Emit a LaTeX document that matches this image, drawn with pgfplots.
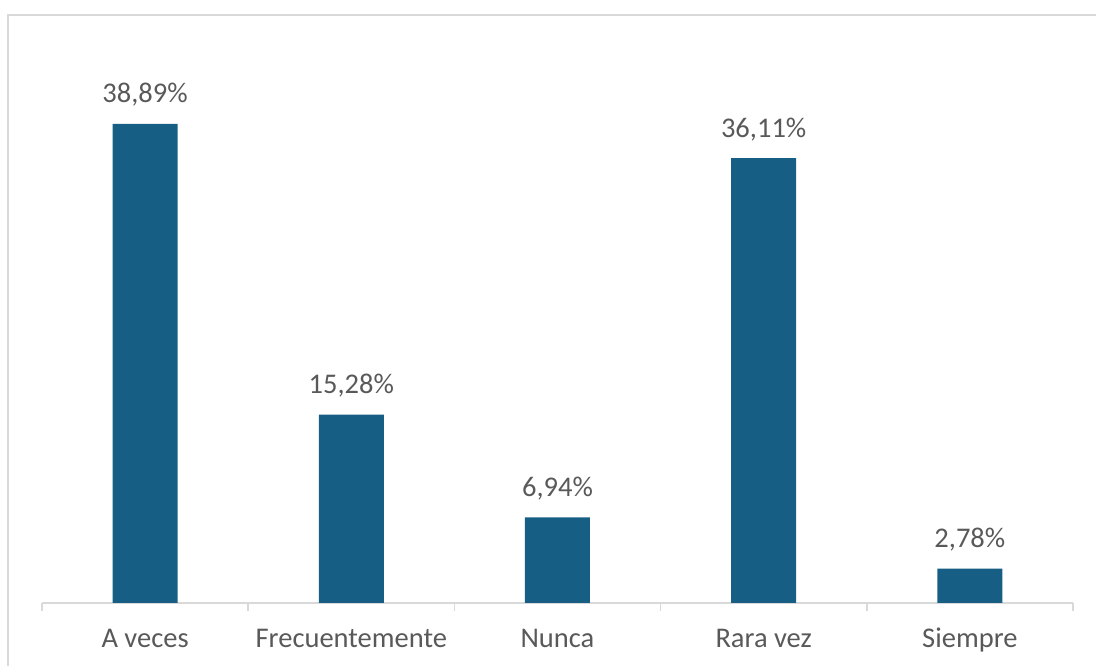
\documentclass[border=0pt]{standalone}
\usepackage{fontspec}
\setmainfont{Carlito}
\usepackage{pgfplots}
\pgfplotsset{compat=1.18}
\definecolor{barblue}{HTML}{165E83}
\definecolor{txtgray}{HTML}{595959}
\definecolor{linegray}{HTML}{D9D9D9}
\begin{document}
\begin{tikzpicture}
\begin{axis}[
    at={(42pt,63pt)}, anchor=south west,
    scale only axis,
    width=1031pt, height=554.4pt,
    xmin=0.5, xmax=5.5,
    ymin=0, ymax=45,
    axis x line*=bottom,
    axis y line=none,
    axis line style={linegray, line width=1.5pt, -},
    xtick={1,2,3,4,5},
    xticklabels={A veces, Frecuentemente, Nunca, Rara vez, Siempre},
    major tick length=0pt,
    minor xtick={0.5,1.5,...,5.5},
    minor tick length=8pt,
    tick align=outside,
    minor tick style={linegray, line width=1.5pt},
    xticklabel style={font=\fontsize{28.5}{34}\selectfont, text=txtgray, anchor=base, yshift=-45pt},
    /pgf/number format/assume math mode=true,
    ybar,
    bar width=65pt,
    nodes near coords={\pgfmathprintnumber[fixed, fixed zerofill, precision=2, use comma]{\pgfplotspointmeta}\%},
    every node near coord/.append style={font=\fontsize{28.5}{34}\selectfont, text=txtgray, anchor=base, yshift=21pt},
]
\addplot[fill=barblue, draw=none] coordinates {(1,38.89) (2,15.28) (3,6.94) (4,36.11) (5,2.78)};
\end{axis}
\draw[linegray, line width=1.5pt] (8pt,-20pt) |- (1120pt,651pt);
\pgfresetboundingbox
\useasboundingbox (0pt,0pt) rectangle (1096pt,666pt);
\end{tikzpicture}
\end{document}
